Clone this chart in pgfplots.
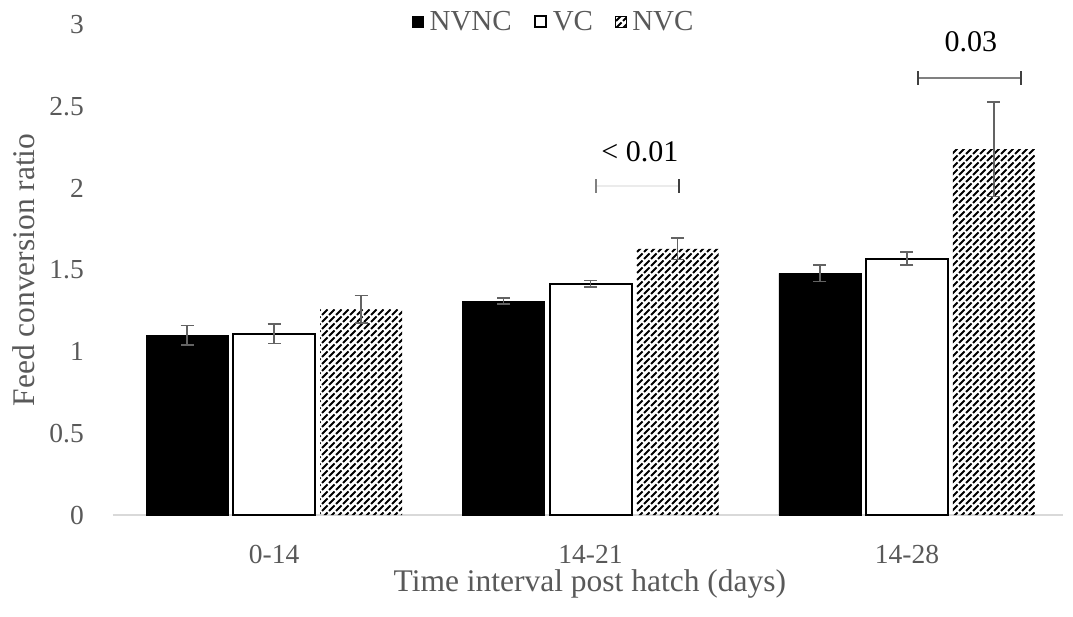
\documentclass[border=0pt]{standalone}
\usepackage{fontspec}
\setmainfont{Liberation Serif}
\usepackage{pgfplots}
\usepackage{pgfplotstable}
\pgfplotsset{compat=1.18}
\usetikzlibrary{patterns}
\definecolor{tickgray}{HTML}{595959}
\definecolor{axisgray}{HTML}{D9D9D9}
\definecolor{errgray}{HTML}{636363}
\definecolor{lightbr}{HTML}{EBEBEB}
\definecolor{midbr}{HTML}{808080}
\definecolor{darkbr}{HTML}{404040}
\pgfdeclarepatternformonly{dashdiag}{\pgfqpoint{-1pt}{-1pt}}{\pgfqpoint{8pt}{8pt}}{\pgfqpoint{7pt}{7pt}}{%
  \pgfsetlinewidth{2pt}%
  \pgfsetbuttcap
  \pgfpathmoveto{\pgfqpoint{0pt}{0pt}}%
  \pgfpathlineto{\pgfqpoint{5.5pt}{5.5pt}}%
  \pgfusepath{stroke}%
}
\pgfplotstableread{
x y e
0 1.10 0.06
1 1.31 0.02
2 1.48 0.05
}\nvnc
\pgfplotstableread{
x y e
0 1.11 0.06
1 1.415 0.02
2 1.57 0.04
}\vc
\pgfplotstableread{
x y e
0 1.26 0.085
1 1.63 0.065
2 2.24 0.29
}\nvc
\begin{document}
\begin{tikzpicture}
\useasboundingbox (-113pt,-101pt) rectangle (960pt,515pt);
\begin{axis}[
  at={(0pt,0pt)}, anchor=south west,
  scale only axis, width=950pt, height=490pt,
  xmin=-0.509, xmax=2.493, ymin=0, ymax=3,
  clip=false,
  ybar=5pt, bar width=82pt,
  axis x line*=bottom, axis y line*=left,
  y axis line style={draw=none},
  x axis line style={draw=axisgray, line width=1.5pt},
  xtick={0,1,2}, xticklabels={0-14,14-21,14-28},
  ytick={0,0.5,1,1.5,2,2.5,3},
  major tick length=0pt,
  xtick style={draw=none}, ytick style={draw=none},
  /pgf/number format/assume math mode=true,
  tick label style={font=\fontsize{27.5}{32}\selectfont, color=tickgray},
  xticklabel style={anchor=center, inner sep=0pt, yshift=-39pt},
  yticklabel style={anchor=east, inner sep=0pt, xshift=-29pt},
  xlabel={Time interval post hatch (days)},
  ylabel={Feed conversion ratio},
  xlabel style={at={(axis description cs:0.502,-0.141)}, anchor=center, font=\fontsize{31.5}{36}\selectfont, color=tickgray},
  ylabel style={at={(axis description cs:-0.0937,0.5)}, anchor=center, font=\fontsize{31.5}{36}\selectfont, color=tickgray},
  legend image code/.code={\draw[#1] (0pt,-5.5pt) rectangle (11pt,5.5pt); \path (15pt,0pt);},
  legend style={at={(axis description cs:0.464,1.0067)}, anchor=center, draw=none, fill=none,
    legend columns=3, font=\fontsize{29}{32}\selectfont\color{tickgray},
    /tikz/every even column/.append style={column sep=20pt},
    legend cell align=left, inner sep=0pt},
  error bars/y dir=both, error bars/y explicit,
  error bars/error bar style={draw=errgray, line width=1.6pt},
  error bars/error mark options={draw=errgray, rotate=90, mark size=6.5pt, line width=1.6pt},
]
\addplot[fill=black, draw=black, line width=0.5pt] table[x=x, y=y, y error=e]{\nvnc};
\addlegendentry{NVNC}
\addplot[fill=white, draw=black, line width=2pt] table[x=x, y=y, y error=e]{\vc};
\addlegendentry{VC}
\addplot[draw=none, pattern=dashdiag, pattern color=black] table[x=x, y=y, y error=e]{\nvc};
\addlegendentry{NVC}
% significance brackets
\draw[lightbr, line width=2pt] (axis cs:1.017,2.015) -- (axis cs:1.280,2.015);
\draw[midbr, line width=2.2pt] (axis cs:1.017,2.015) ++(0pt,-7pt) -- ++(0pt,14pt);
\draw[darkbr, line width=1.6pt] (axis cs:1.280,2.015) ++(0pt,-7pt) -- ++(0pt,14pt);
\node[anchor=center, font=\fontsize{30}{34}\selectfont] at (axis cs:1.156,2.223) {< 0.01};
\draw[midbr, line width=2pt] (axis cs:2.035,2.676) -- (axis cs:2.360,2.676);
\draw[darkbr, line width=1.8pt] (axis cs:2.035,2.676) ++(0pt,-7pt) -- ++(0pt,14pt);
\draw[darkbr, line width=1.8pt] (axis cs:2.360,2.676) ++(0pt,-7pt) -- ++(0pt,14pt);
\node[anchor=center, font=\fontsize{30}{34}\selectfont] at (axis cs:2.202,2.897) {0.03};
\end{axis}
\end{tikzpicture}
\end{document}
